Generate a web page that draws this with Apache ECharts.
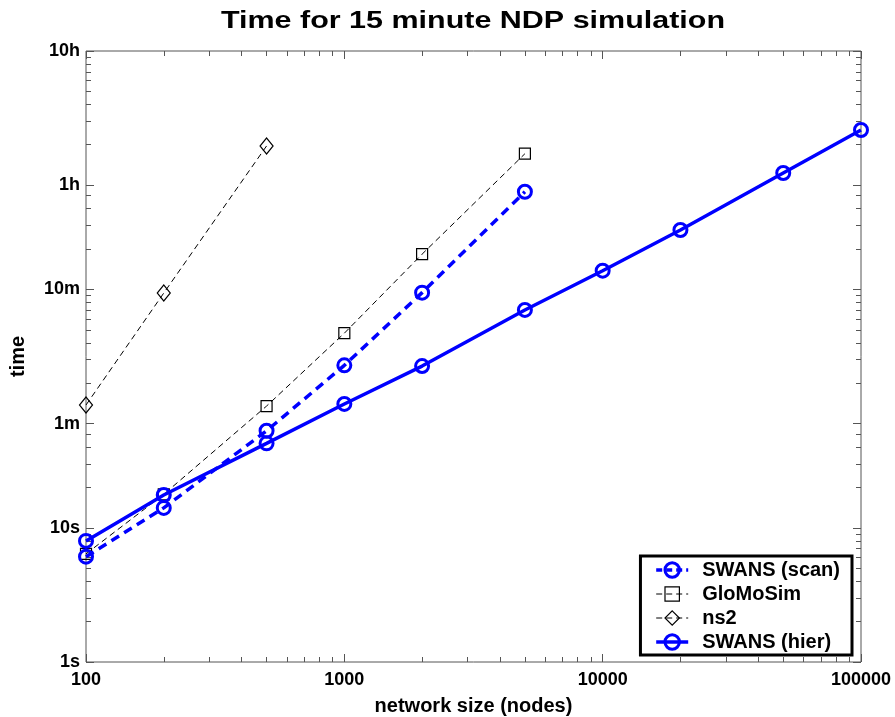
<!DOCTYPE html>
<html>
<head>
<meta charset="utf-8">
<script src="https://cdn.jsdelivr.net/npm/echarts@6/dist/echarts.min.js"></script>
<style>
  html, body { margin: 0; padding: 0; background: #fff; }
  #chart { width: 895px; height: 717px; }
</style>
</head>
<body>
<div id="chart"></div>
<script>
// Network sizes (nodes) at which each simulator was timed
const sizes = [100, 200, 500, 1000, 2000, 5000, 10000, 20000, 50000, 100000];

// Wall-clock time in seconds for a 15 minute NDP run
const swansScanTime = [6.1, 14.1, 53, 163, 568, 3210];
const gloMoSimTime = [6.4, 17.8, 81, 283, 1100, 6170];
const ns2Time = [82.5, 564, 7050];
const swansHierTime = [8.0, 17.6, 42.7, 84, 161, 422, 828, 1665, 4430, 9270];

// Axis ticks
const xTickValues = [100, 1000, 10000, 100000];
const xTickLabels = ['100', '1000', '10000', '100000'];
const yTickValues = [1, 10, 60, 600, 3600, 36000];
const yTickLabels = ['1s', '10s', '1m', '10m', '1h', '10h'];

// Minor ticks: integer multiples between consecutive major ticks
function minorTicks(majors) {
  const out = [];
  for (let i = 0; i < majors.length - 1; i++) {
    const a = majors[i], b = majors[i + 1];
    for (let k = 2; k * a < b; k++) out.push(k * a);
  }
  return out;
}
const xMinor = minorTicks(xTickValues);
const yMinor = minorTicks(yTickValues);

function pairs(values) {
  return values.map((v, i) => [sizes[i], v]);
}

const FONT = 'Liberation Sans, Arial, Helvetica, sans-serif';
const AXIS_COLOR = '#555';

function xAxisDef(position, ticks, len, labels) {
  return {
    type: 'log', logBase: 10, min: 100, max: 100000, position: position,
    axisLine: { show: false, onZero: false },
    splitLine: { show: false },
    axisTick: { show: true, inside: true, length: len, customValues: ticks,
      lineStyle: { color: AXIS_COLOR, width: 1 } },
    axisLabel: labels ? {
      show: true, customValues: xTickValues, margin: 9,
      color: '#000', fontFamily: FONT, fontWeight: 'bold', fontSize: 18,
      formatter: v => xTickLabels[xTickValues.indexOf(v)] ?? String(v)
    } : { show: false },
    name: labels ? 'network size (nodes)' : '',
    nameLocation: 'middle', nameGap: 34,
    nameTextStyle: { color: '#000', fontFamily: FONT, fontWeight: 'bold', fontSize: 20 }
  };
}

function yAxisDef(position, ticks, len, labels) {
  return {
    type: 'log', logBase: 10, min: 1, max: 36000, position: position,
    axisLine: { show: false, onZero: false },
    splitLine: { show: false },
    axisTick: { show: true, inside: true, length: len, customValues: ticks,
      lineStyle: { color: AXIS_COLOR, width: 1 } },
    axisLabel: labels ? {
      show: true, customValues: yTickValues, margin: 6,
      color: '#000', fontFamily: FONT, fontWeight: 'bold', fontSize: 18,
      formatter: v => {
        let best = 0;
        yTickValues.forEach((t, i) => {
          if (Math.abs(Math.log(t) - Math.log(v)) < Math.abs(Math.log(yTickValues[best]) - Math.log(v))) best = i;
        });
        return yTickLabels[best];
      }
    } : { show: false },
    name: labels ? 'time' : '',
    nameLocation: 'middle', nameGap: 58,
    nameTextStyle: { color: '#000', fontFamily: FONT, fontWeight: 'bold', fontSize: 20 }
  };
}

const blueItem = { color: 'rgba(0,0,0,0)', borderColor: '#0000ff', borderWidth: 3 };
const blackItem = { color: 'rgba(0,0,0,0)', borderColor: '#000', borderWidth: 1.2 };

const chart = echarts.init(document.getElementById('chart'), null, { renderer: 'canvas' });
chart.setOption({
  animation: false,
  backgroundColor: '#fff',
  graphic: [{
    type: 'text', x: 473, y: 21, scaleX: 1.27,
    style: {
      text: 'Time for 15 minute NDP simulation',
      font: 'bold 24px ' + FONT, fill: '#000',
      textAlign: 'center', textVerticalAlign: 'middle'
    }
  }],
  grid: {
    left: 86, right: 34, top: 51, bottom: 55,
    outerBoundsMode: 'none', containLabel: false,
    show: true, borderColor: AXIS_COLOR, borderWidth: 1, backgroundColor: 'transparent'
  },
  xAxis: [
    xAxisDef('bottom', xTickValues, 8, true),
    xAxisDef('bottom', xMinor, 5, false),
    xAxisDef('top', xTickValues, 8, false),
    xAxisDef('top', xMinor, 5, false)
  ],
  yAxis: [
    yAxisDef('left', yTickValues, 8, true),
    yAxisDef('left', yMinor, 5, false),
    yAxisDef('right', yTickValues, 8, false),
    yAxisDef('right', yMinor, 5, false)
  ],
  legend: {
    orient: 'vertical', right: 43, bottom: 62,
    backgroundColor: '#fff', borderColor: '#000', borderWidth: 3,
    padding: [4, 12, 3, 14], itemGap: 4, itemWidth: 32, itemHeight: 18,
    textStyle: { color: '#000', fontFamily: FONT, fontWeight: 'bold', fontSize: 20,
      lineHeight: 20, padding: [0, 0, 0, 9] },
    data: [
      { name: 'SWANS (scan)', itemStyle: { borderWidth: 3, borderColor: '#0000ff', color: 'rgba(0,0,0,0)' },
        lineStyle: { width: 3.5, color: '#0000ff', type: [6, 4] } },
      { name: 'GloMoSim', itemStyle: { borderWidth: 1.2, borderColor: '#000', color: 'rgba(0,0,0,0)' },
        lineStyle: { width: 1, color: '#000', type: [6, 4] } },
      { name: 'ns2', itemStyle: { borderWidth: 1.2, borderColor: '#000', color: 'rgba(0,0,0,0)' },
        lineStyle: { width: 1, color: '#000', type: [6, 4] } },
      { name: 'SWANS (hier)', itemStyle: { borderWidth: 3, borderColor: '#0000ff', color: 'rgba(0,0,0,0)' },
        lineStyle: { width: 3.5, color: '#0000ff', type: 'solid' } }
    ]
  },
  series: [
    {
      name: 'SWANS (hier)', type: 'line', data: pairs(swansHierTime),
      color: '#0000ff', symbol: 'circle', symbolSize: 13,
      lineStyle: { color: '#0000ff', width: 3.5, type: 'solid' },
      itemStyle: blueItem, z: 3
    },
    {
      name: 'SWANS (scan)', type: 'line', data: pairs(swansScanTime),
      color: '#0000ff', symbol: 'circle', symbolSize: 13,
      lineStyle: { color: '#0000ff', width: 3.5, type: [9, 6] },
      itemStyle: blueItem, z: 3
    },
    {
      name: 'GloMoSim', type: 'line', data: pairs(gloMoSimTime),
      color: '#000', symbol: 'rect', symbolSize: 11,
      lineStyle: { color: '#000', width: 1, type: [6, 4] },
      itemStyle: blackItem, z: 2
    },
    {
      name: 'ns2', type: 'line', data: pairs(ns2Time),
      color: '#000', symbol: 'diamond', symbolSize: [13, 16],
      lineStyle: { color: '#000', width: 1, type: [6, 4] },
      itemStyle: blackItem, z: 2
    }
  ]
});
</script>
</body>
</html>
